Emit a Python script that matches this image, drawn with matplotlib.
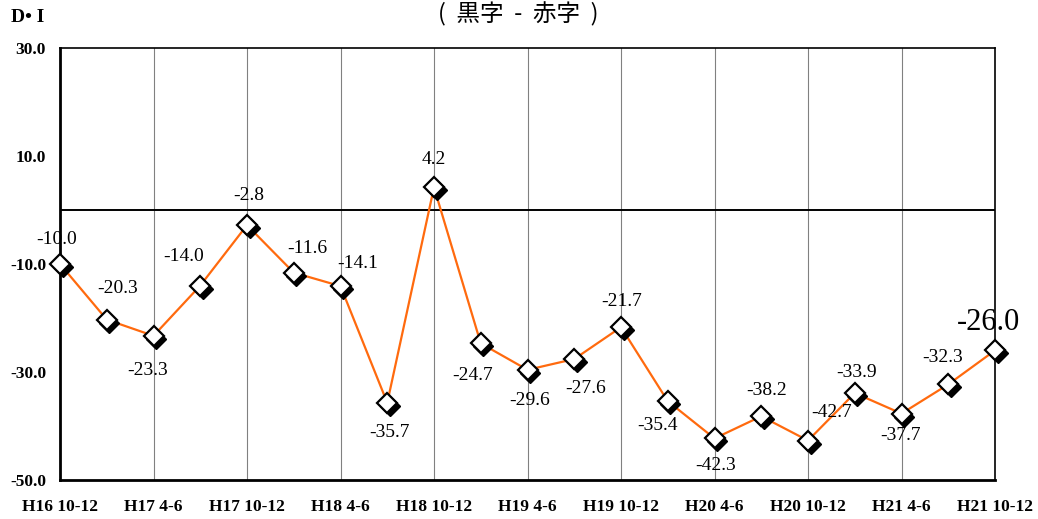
import matplotlib
matplotlib.use('Agg')
import matplotlib.pyplot as plt
from matplotlib import transforms

# D.I. (black-ink minus red-ink) by quarter
periods = ['H16 10-12', '', 'H17 4-6', '', 'H17 10-12', '', 'H18 4-6', '',
           'H18 10-12', '', 'H19 4-6', '', 'H19 10-12', '', 'H20 4-6', '',
           'H20 10-12', '', 'H21 4-6', '', 'H21 10-12']
di_values = [-10.0, -20.3, -23.3, -14.0, -2.8, -11.6, -14.1, -35.7, 4.2, -24.7,
             -29.6, -27.6, -21.7, -35.4, -42.3, -38.2, -42.7, -33.9, -37.7,
             -32.3, -26.0]
y_ticks = [30, 10, -10, -30, -50]

# label offsets in pixels from each point
label_offsets = [(-3, 24), (11, 31), (-6, -35), (-17, 29), (2, 30), (14, 24),
                 (17, 23), (2, -30), (0, 28), (-8, -32), (2, -31), (11, -29),
                 (1, 26), (-10, -24), (1, -27), (5, 26), (24, 28), (2, 21),
                 (-1, -22), (-6, 27), (-7, 28)]

serif = 'Liberation Serif'
fig = plt.figure(figsize=(10.38, 5.19), dpi=100)
ax = fig.add_axes([60 / 1038, 39 / 519, 935 / 1038, 432 / 519])

x = list(range(len(di_values)))

ax.set_xlim(0, len(di_values) - 1)
ax.set_ylim(-50, 30)

# vertical gridlines on labelled quarters
for i, p in enumerate(periods):
    if p and 0 < i < len(periods) - 1:
        ax.axvline(i, color='#808080', lw=0.8, zorder=1)
ax.axhline(0, color='black', lw=1.4, zorder=2)

ax.plot(x, di_values, color='#FF6A0E', lw=1.6, zorder=3)

# shadowed diamond markers
shadow = transforms.offset_copy(ax.transData, fig=fig, x=2.5, y=-3, units='dots')
ax.plot(x, di_values, linestyle='none', marker='D', markersize=10.5,
        markerfacecolor='black', markeredgecolor='black', transform=shadow,
        zorder=4, clip_on=False)
ax.plot(x, di_values, linestyle='none', marker='D', markersize=10.5,
        markerfacecolor='white', markeredgecolor='black', markeredgewidth=1.6,
        zorder=5, clip_on=False)

for i, v in enumerate(di_values):
    dx, dy = label_offsets[i]
    size = 22 if i == len(di_values) - 1 else 14
    ax.annotate(f'{v:.1f}', (i, v), xytext=(dx, dy), textcoords='offset pixels',
                ha='center', va='center', fontsize=size, family=serif, zorder=6)

ax.set_yticks(y_ticks)
ax.set_yticklabels([f'{t:.1f}' for t in y_ticks], family=serif,
                   fontweight='bold', fontsize=12.5)
ax.set_xticks([i for i, p in enumerate(periods) if p])
ax.set_xticklabels([p for p in periods if p], family=serif,
                   fontweight='bold', fontsize=12.5)
ax.tick_params(axis='both', length=0)
ax.tick_params(axis='x', pad=14)
ax.tick_params(axis='y', pad=10)

for side in ['top', 'right']:
    ax.spines[side].set_linewidth(1.2)
for side in ['left', 'bottom']:
    ax.spines[side].set_linewidth(2.0)

fig.text(28 / 1038, 1 - 17 / 519, 'D• I', family=serif, fontweight='bold',
         fontsize=14, ha='center', va='center')
fig.text(518 / 1038, 1 - 14 / 519, '(  黒字  -  赤字  )',
         family=['Noto Sans CJK JP', 'DejaVu Sans'], fontsize=17,
         ha='center', va='center')

fig.savefig('out.png', dpi=100)
